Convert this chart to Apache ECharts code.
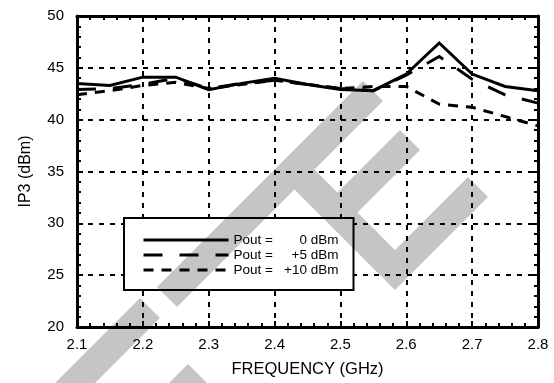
<!DOCTYPE html>
<html>
<head>
<meta charset="utf-8">
<script src="https://cdn.jsdelivr.net/npm/echarts@6/dist/echarts.min.js"></script>
<style>
html,body{margin:0;padding:0;background:#fff;}
#c{width:554px;height:383px;}
</style>
</head>
<body>
<div id="c"></div>
<script>
const freq = [2.10,2.15,2.20,2.25,2.30,2.35,2.40,2.45,2.50,2.55,2.60,2.65,2.70,2.75,2.80];
const ip3_0dBm  = [43.5,43.3,44.1,44.1,42.9,43.5,44.0,43.4,42.9,42.8,44.4,47.4,44.4,43.2,42.8];
const ip3_5dBm  = [42.9,43.0,43.4,44.0,43.0,43.5,43.8,43.4,43.0,42.8,44.3,46.1,43.9,42.4,41.6];
const ip3_10dBm = [42.4,42.8,43.3,43.6,43.0,43.4,43.8,43.4,43.0,43.2,43.2,41.5,41.2,40.3,39.4];
const seriesNames = ['P0','P5','P10'];
const legendValues = ['0 dBm','+5 dBm','+10 dBm'];
const xTicks = {min:2.1, max:2.8, step:0.1};
const yTicks = {min:20, max:50, step:5};

const FONT = '"Liberation Sans", Arial, Helvetica, sans-serif';
const pairs = ys => freq.map((f,i)=>[f, ys[i]]);

// decorative watermark of the scanned source page (not data)
const WATERMARK_SHAPES = [
  [[157,287],[363,81],[383,101],[314.5,169.5],[337.5,192.5],[400,130],[420,150],[357.5,212.5],
   [395,250],[468,177],[488,197],[395,290],[294.5,189.5],[177,307]],
  [[140,298],[160,318],[60,418],[40,398]],
  [[188,364],[207,383],[187,403],[168,384]]
];

const chart = echarts.init(document.getElementById('c'), null, {renderer:'canvas'});

const frameAxisX = (pos, labels) => ({
  type:'value', position:pos, min:xTicks.min, max:xTicks.max, interval:xTicks.step,
  axisLine:{show:true, onZero:false, lineStyle:{color:'#000', width:3}},
  axisTick:{show:true, inside:true, length:6, lineStyle:{color:'#000', width:2}},
  minorTick:{show:true, splitNumber:5, length:4, lineStyle:{color:'#000', width:2}},
  axisLabel:{show:labels, fontFamily:FONT, fontSize:15, color:'#000', margin:10,
    formatter:v=>v.toFixed(1)},
  splitLine:{show:labels, lineStyle:{color:'#000', width:2, type:[5,6]}},
  name: labels ? 'FREQUENCY (GHz)' : '', nameLocation:'middle', nameGap:34,
  nameTextStyle:{fontFamily:FONT, fontSize:16.5, color:'#000'}
});
const frameAxisY = (pos, labels) => ({
  type:'value', position:pos, min:yTicks.min, max:yTicks.max, interval:yTicks.step,
  axisLine:{show:true, onZero:false, lineStyle:{color:'#000', width:3}},
  axisTick:{show:true, inside:true, length:6, lineStyle:{color:'#000', width:2}},
  minorTick:{show:true, splitNumber:5, length:4, lineStyle:{color:'#000', width:2}},
  axisLabel:{show:labels, fontFamily:FONT, fontSize:15, color:'#000', margin:13},
  splitLine:{show:labels, lineStyle:{color:'#000', width:2, type:[5,6]}},
  name: labels ? 'IP3 (dBm)' : '', nameLocation:'middle', nameGap:43,
  nameTextStyle:{fontFamily:FONT, fontSize:16, color:'#000'}
});

const mk = (name, data, dash) => ({
  name, type:'line', data:pairs(data), symbol:'none', smooth:false,
  lineStyle:{color:'#000', width:3, type:dash, cap:'butt', join:'miter'},
  itemStyle:{color:'#000'}, z:5
});

chart.setOption({
  animation:false,
  backgroundColor:'#fff',
  grid:{left:77, right:16, top:16, bottom:51},
  xAxis:[frameAxisX('bottom', true), frameAxisX('top', false)],
  yAxis:[frameAxisY('left', true), frameAxisY('right', false)],
  legend:{
    show:true, orient:'vertical', left:124, top:218,
    backgroundColor:'#fff', borderColor:'#000', borderWidth:2,
    padding:[15,15,13,18], itemGap:1, itemWidth:85, itemHeight:13,
    data:seriesNames,
    itemStyle:{color:'rgba(0,0,0,0)', borderWidth:0, opacity:0},
    lineStyle:{width:3, color:'#000'},
    textStyle:{fontFamily:FONT, fontSize:13.5, color:'#000',
      rich:{a:{fontFamily:FONT, fontSize:13.5, width:44}, b:{fontFamily:FONT, fontSize:13.5, width:61, align:'right'}}},
    formatter:n=>'{a|Pout =}{b|'+legendValues[seriesNames.indexOf(n)]+'}'
  },
  graphic:WATERMARK_SHAPES.map(pts=>({
    type:'polygon', z:100, silent:true,
    shape:{points:pts},
    style:{fill:'#c5c5c5', blend:'multiply'}
  })),
  series:[
    mk(seriesNames[0], ip3_0dBm, 'solid'),
    mk(seriesNames[1], ip3_5dBm, [19,17]),
    mk(seriesNames[2], ip3_10dBm, [10,8])
  ]
});
</script>
</body>
</html>
